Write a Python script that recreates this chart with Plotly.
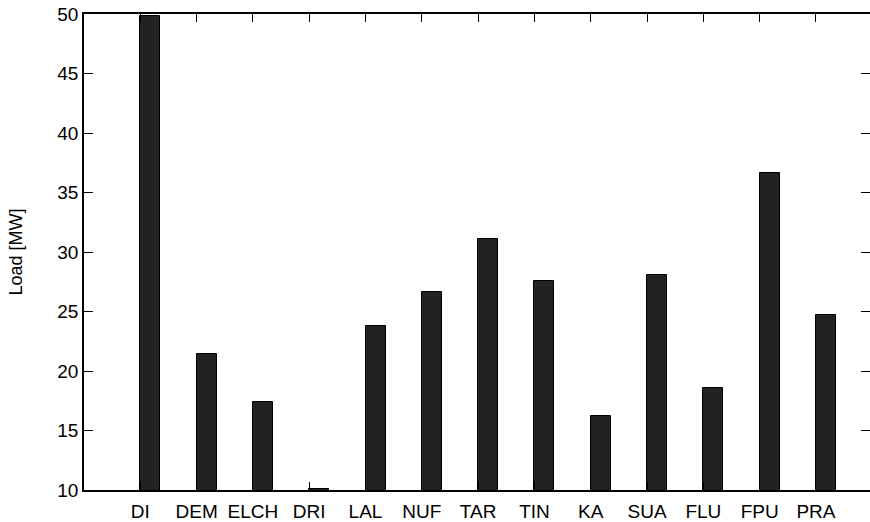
import plotly.graph_objects as go

categories = ["DI", "DEM", "ELCH", "DRI", "LAL", "NUF", "TAR", "TIN", "KA", "SUA", "FLU", "FPU", "PRA"]
load_mw = [49.8, 21.4, 17.4, 10.1, 23.8, 26.6, 31.1, 27.6, 16.2, 28.1, 18.6, 36.6, 24.7]
y_ticks = [10, 15, 20, 25, 30, 35, 40, 45, 50]

positions = list(range(len(categories)))

font = dict(family="Liberation Sans, Arial, Helvetica, sans-serif", size=18, color="black")
tick_font = dict(family="Liberation Sans, Arial, Helvetica, sans-serif", size=19, color="black")

fig = go.Figure()
fig.add_trace(go.Bar(
    x=positions, y=load_mw,
    offset=0, width=0.355,
    marker=dict(color="#222222", line=dict(color="black", width=1)),
    showlegend=False,
))
# invisible trace to activate the mirrored right-hand y axis
fig.add_trace(go.Scatter(x=[positions[0]], y=[y_ticks[0]], yaxis="y2", mode="markers",
                         marker=dict(opacity=0), showlegend=False, hoverinfo="skip"))

fig.update_layout(
    width=870, height=522,
    margin=dict(l=84, r=0, t=14, b=32),
    paper_bgcolor="white", plot_bgcolor="white",
    font=font,
    bargap=0,
    xaxis=dict(
        range=[-1, 12.96],
        tickmode="array", tickvals=positions, ticktext=categories,
        ticks="inside", ticklen=8, tickwidth=1, tickcolor="black",
        showline=True, linecolor="black", linewidth=1.5, mirror="ticks",
        showgrid=False, zeroline=False, tickfont=tick_font,
        ticklabelstandoff=3,
    ),
    yaxis=dict(
        range=[10, 50], tickmode="array", tickvals=y_ticks,
        ticks="inside", ticklen=9, tickwidth=1, tickcolor="black",
        showline=True, linecolor="black", linewidth=1.5,
        showgrid=False, zeroline=False, tickfont=tick_font,
        title=dict(text="Load [MW]", font=font, standoff=30),
    ),
    yaxis2=dict(
        range=[10, 50], tickmode="array", tickvals=y_ticks,
        overlaying="y", side="right",
        ticks="inside", ticklen=9, tickwidth=1, tickcolor="black",
        showticklabels=False, showline=False, showgrid=False, zeroline=False,
    ),
)

fig.write_html("out.html")
